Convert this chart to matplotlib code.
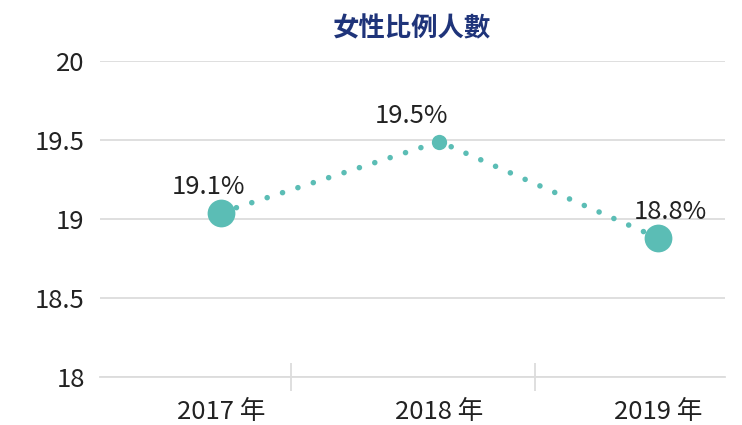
import matplotlib.pyplot as plt

plt.rcParams["font.family"] = ["Noto Sans CJK TC", "DejaVu Sans"]
plt.rcParams["font.weight"] = "light"

years = ["2017 年", "2018 年", "2019 年"]
values = [19.04, 19.49, 18.88]
labels = ["19.1%", "19.5%", "18.8%"]
marker_sizes = [20, 11, 20]
label_dx = [-9, -20, 9]

teal = "#5bbdb5"
grid = "#dcdcdc"
text_color = "#222222"

fig = plt.figure(figsize=(7.42, 4.25), dpi=100)
ax = fig.add_axes([100 / 742, 1 - 377 / 425, 625 / 742, 316 / 425])

x = list(range(len(years)))
ax.plot(x, values, color=teal, lw=4, linestyle=(0, (0.01, 2.9)),
        dash_capstyle="round", zorder=2)
for xi, v, s in zip(x, values, marker_sizes):
    ax.plot(xi, v, "o", ms=s, color=teal, mec="none", zorder=3)
for xi, v, lab, dx in zip(x, values, labels, label_dx):
    ax.annotate(lab, (xi, v), xytext=(dx, 9), textcoords="offset points",
                ha="center", va="bottom", fontsize=18.5, color=text_color)

ax.set_ylim(18, 20)
ax.set_yticks([18, 18.5, 19, 19.5, 20])
ax.set_yticklabels(["18", "18.5", "19", "19.5", "20"])
ax.set_xlim(-0.554, 2.307)
ax.set_xticks(x)
ax.set_xticklabels(years)
ax.set_xticks([0.32, 1.437], minor=True)

ax.grid(axis="y", color=grid, lw=1.3)
ax.set_axisbelow(True)
for side in ["top", "right", "left"]:
    ax.spines[side].set_visible(False)
ax.spines["bottom"].set_color(grid)
ax.spines["bottom"].set_linewidth(1.3)

ax.tick_params(axis="y", length=0, pad=11, labelsize=18.5, labelcolor=text_color)
ax.tick_params(axis="x", which="major", length=0, pad=16, labelsize=18.5,
               labelcolor=text_color)
ax.tick_params(axis="x", which="minor", direction="inout", length=20,
               width=1.3, color=grid)

ax.set_title("女性比例人數", fontsize=19, fontweight="bold", color="#1f347a", pad=18)

fig.savefig("out.png", dpi=100)
